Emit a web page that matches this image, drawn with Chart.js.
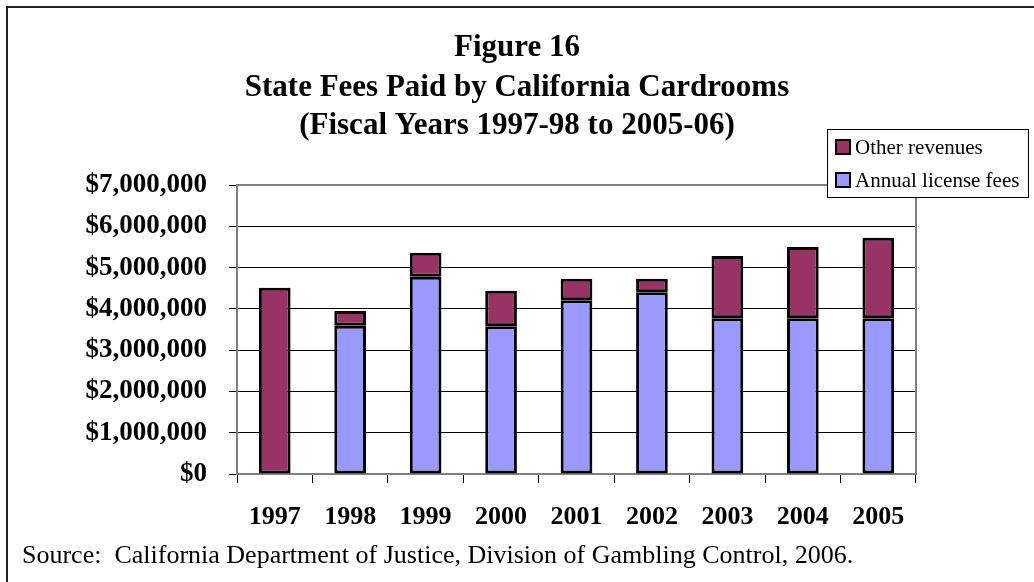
<!DOCTYPE html>
<html><head><meta charset="utf-8">
<script src="https://cdn.jsdelivr.net/npm/chart.js@4/dist/chart.umd.min.js"></script>
<style>html,body{margin:0;padding:0;background:#fff;}canvas{display:block;}</style>
</head><body>
<canvas id="c" width="1034" height="582"></canvas>
<script>
const categories = ['1997','1998','1999','2000','2001','2002','2003','2004','2005'];
const annualLicenseFees = [null, 3590000, 4780000, 3580000, 4210000, 4400000, 3770000, 3770000, 3770000];
const otherRevenues = [4510000, 360000, 580000, 860000, 520000, 330000, 1510000, 1730000, 1950000];
const yTicks = [0,1000000,2000000,3000000,4000000,5000000,6000000,7000000];
const titleLines = ['Figure 16','State Fees Paid by California Cardrooms','(Fiscal Years 1997-98 to 2005-06)'];
const sourceText = 'Source:  California Department of Justice, Division of Gambling Control, 2006.';

const SERIF = '"Liberation Serif","Times New Roman",serif';

const deco = {
  id:'deco',
  beforeDatasetsDraw(chart){
    const {ctx, chartArea:a} = chart;
    ctx.save();
    ctx.strokeStyle = '#808080'; ctx.lineWidth = 2;
    ctx.beginPath();
    ctx.moveTo(a.left, a.top); ctx.lineTo(a.right, a.top); ctx.lineTo(a.right, a.bottom);
    ctx.stroke();
    ctx.restore();
  },
  afterDraw(chart){
    const {ctx} = chart;
    ctx.save();
    // frame
    ctx.strokeStyle = '#222'; ctx.lineWidth = 2;
    ctx.strokeRect(7, 7, 1040, 600);
    // title
    ctx.fillStyle = '#000';
    ctx.font = 'bold 31px ' + SERIF;
    ctx.textAlign = 'center'; ctx.textBaseline = 'middle';
    const ys = [48, 88, 126];
    titleLines.forEach((t,i)=>ctx.fillText(t, 517, ys[i]));
    // source
    ctx.font = '26px ' + SERIF;
    ctx.textAlign = 'left';
    ctx.fillText(sourceText, 22, 556);
    // legend
    const lx = 827, ly = 129, lw = 201, lh = 68;
    ctx.fillStyle = '#fff'; ctx.fillRect(lx, ly, lw, lh);
    ctx.strokeStyle = '#000'; ctx.lineWidth = 1;
    ctx.strokeRect(lx+0.5, ly+0.5, lw, lh);
    const items = [chart.data.datasets[1], chart.data.datasets[0]];
    const rowY = [147, 180];
    ctx.font = '21px ' + SERIF;
    items.forEach((ds,i)=>{
      ctx.fillStyle = ds.backgroundColor;
      ctx.fillRect(836, rowY[i]-7, 14, 14);
      ctx.strokeStyle = '#000'; ctx.lineWidth = 2;
      ctx.strokeRect(836, rowY[i]-7, 14, 14);
      ctx.fillStyle = '#000';
      ctx.textAlign = 'left'; ctx.textBaseline = 'middle';
      ctx.fillText(ds.label, 855, rowY[i]+1);
    });
    ctx.restore();
  }
};

new Chart(document.getElementById('c'), {
  type:'bar',
  data:{
    labels: categories,
    datasets:[
      {label:'Annual license fees', data: annualLicenseFees, backgroundColor:'#9999FF', borderColor:'#000', borderWidth:3, borderSkipped:false},
      {label:'Other revenues', data: otherRevenues, backgroundColor:'#993366', borderColor:'#000', borderWidth:3, borderSkipped:false}
    ]
  },
  options:{
    responsive:false, animation:false,
    layout:{padding:{left:0, right:118, top:185, bottom:48}},
    datasets:{bar:{barPercentage:0.42, categoryPercentage:1}},
    plugins:{legend:{display:false}, title:{display:false}, tooltip:{enabled:false}},
    scales:{
      x:{
        stacked:true,
        afterFit(s){ s.height = 60; },
        grid:{drawOnChartArea:false, drawTicks:true, tickLength:9, tickColor:'#000', offset:true},
        border:{color:'#808080', width:2},
        ticks:{color:'#000', font:{family:SERIF, size:26, weight:'bold'}, padding:19, maxRotation:0}
      },
      y:{
        stacked:true, min:0, max:7000000,
        afterFit(s){ s.width = 237; },
        afterBuildTicks(s){ s.ticks = yTicks.map(v=>({value:v})); },
        grid:{color:'#000', lineWidth:1, tickLength:8, tickColor:'#000'},
        border:{color:'#808080', width:2},
        ticks:{color:'#000', padding:22, font:{family:SERIF, size:27, weight:'bold'},
          callback:(v)=>'$' + Number(v).toLocaleString('en-US')}
      }
    }
  },
  plugins:[deco]
});
</script>
</body></html>
